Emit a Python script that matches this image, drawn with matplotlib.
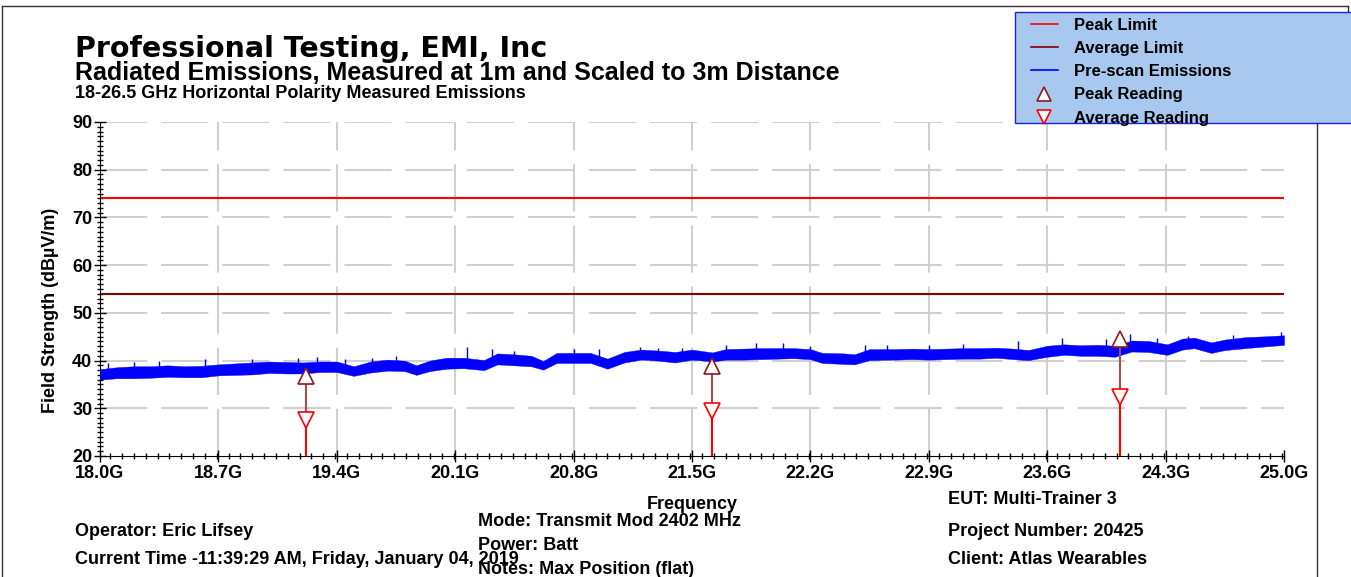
import numpy as np
import matplotlib
matplotlib.use("Agg")
import matplotlib.pyplot as plt
from matplotlib.lines import Line2D
from matplotlib.patches import Rectangle
from matplotlib.ticker import MultipleLocator, FixedLocator

plt.rcParams['font.family'] = ['Liberation Sans', 'DejaVu Sans']
plt.rcParams['font.weight'] = 'bold'
plt.rcParams['axes.labelweight'] = 'bold'
plt.rcParams['lines.scale_dashes'] = False

W, H = 1351, 577

# limits (dBuV/m)
peak_limit = 74.0
avg_limit = 54.0

# pre-scan trace, read as lower/upper edges of the noise band (GHz, dBuV/m)
scan_freq = [18.00, 18.10, 18.20, 18.30, 18.40, 18.50, 18.60, 18.70, 18.80, 18.90,
             19.00, 19.10, 19.20, 19.30, 19.40, 19.50, 19.60, 19.70, 19.80, 19.87,
             19.95, 20.05, 20.15, 20.27, 20.35, 20.45, 20.55, 20.62, 20.70, 20.80,
             20.90, 21.00, 21.10, 21.20, 21.30, 21.40, 21.50, 21.62, 21.70, 21.80,
             21.90, 22.00, 22.10, 22.20, 22.27, 22.40, 22.46, 22.55, 22.70, 22.80,
             22.90, 23.00, 23.10, 23.20, 23.30, 23.40, 23.49, 23.60, 23.70, 23.80,
             23.90, 24.00, 24.10, 24.20, 24.31, 24.40, 24.47, 24.57, 24.65, 24.77,
             24.90, 25.00]
scan_lo = [36.0, 36.3, 36.3, 36.4, 36.6, 36.5, 36.5, 36.9, 37.0, 37.1,
           37.4, 37.3, 37.3, 37.6, 37.6, 36.8, 37.5, 37.9, 37.8, 37.0,
           37.8, 38.3, 38.4, 38.0, 39.2, 39.0, 38.8, 38.1, 39.5, 39.5,
           39.5, 38.3, 39.6, 40.2, 40.0, 39.6, 40.2, 39.8, 40.2, 40.2,
           40.3, 40.4, 40.5, 40.3, 39.5, 39.3, 39.2, 40.1, 40.2, 40.3,
           40.2, 40.3, 40.4, 40.4, 40.6, 40.3, 40.1, 40.8, 41.2, 41.0,
           41.0, 40.8, 41.9, 41.8, 41.2, 42.3, 42.6, 41.6, 42.2, 42.6,
           43.0, 43.3]
scan_hi = [38.2, 38.6, 38.8, 38.8, 39.0, 38.8, 38.9, 39.2, 39.4, 39.6,
           39.8, 39.7, 39.6, 39.8, 39.8, 38.8, 39.8, 40.2, 40.0, 39.0,
           40.0, 40.6, 40.6, 40.1, 41.5, 41.3, 41.0, 39.9, 41.6, 41.6,
           41.6, 40.4, 41.8, 42.3, 42.1, 41.8, 42.3, 41.7, 42.4, 42.5,
           42.6, 42.6, 42.6, 42.4, 41.6, 41.5, 41.3, 42.4, 42.4, 42.5,
           42.4, 42.5, 42.6, 42.6, 42.7, 42.5, 42.2, 43.1, 43.4, 43.2,
           43.3, 43.1, 44.2, 44.1, 43.4, 44.6, 44.8, 43.8, 44.4, 44.9,
           45.1, 45.3]

# narrow spikes sticking out of the band
spike_freq = [18.05, 18.20, 18.35, 18.62, 18.90, 19.17, 19.28, 19.45, 19.61, 19.75,
              20.17, 20.32, 20.45, 20.80, 20.95, 21.19, 21.30, 21.44, 21.70, 21.88,
              22.04, 22.20, 22.52, 22.65, 22.90, 23.10, 23.43, 23.69, 23.95, 24.09,
              24.25, 24.43, 24.70, 24.98]
spike_top = [39.5, 39.8, 39.9, 40.3, 40.3, 40.6, 40.8, 40.4, 40.6, 41.0,
             42.9, 42.4, 42.0, 42.5, 42.5, 42.9, 42.7, 42.7, 43.2, 43.6,
             43.6, 43.1, 43.3, 43.2, 43.3, 43.4, 44.1, 44.7, 44.6, 45.5,
             44.8, 45.2, 45.3, 45.9]

# final measurements
meas_freq = [19.22, 21.62, 24.03]
peak_reading = [36.8, 38.9, 44.5]
avg_reading = [27.5, 29.5, 32.4]

x_ticks = [18.0, 18.7, 19.4, 20.1, 20.8, 21.5, 22.2, 22.9, 23.6, 24.3, 25.0]
y_ticks = [20, 30, 40, 50, 60, 70, 80, 90]


def fx(x):
    return x / W


def fy(y):
    return 1 - y / H


fig = plt.figure(figsize=(W / 100, H / 100), dpi=100)
ax = fig.add_axes([fx(100), fy(456), 1184 / W, 334 / H])

# grid first so everything sits on top
for t in y_ticks[1:]:
    ax.axhline(t, color='#d0d0d0', lw=1.5, dashes=(34, 10), zorder=0)
for t in x_ticks[1:-1]:
    ax.axvline(t, color='#d0d0d0', lw=1.5, dashes=(34, 10), zorder=0)

ax.axhline(peak_limit, color='#ff0000', lw=1.5, zorder=2)
ax.axhline(avg_limit, color='#800000', lw=1.5, zorder=2)

ax.fill_between(scan_freq, scan_lo, scan_hi, color='#0000ff', lw=0.3,
                edgecolor='#0000ff', zorder=3)
ax.vlines(spike_freq, np.array(spike_top) - 2.5, spike_top, color='#0000ff',
          lw=1.0, zorder=3)

# stems: red up to the average, brownish from average to peak
ax.vlines(meas_freq, 20, avg_reading, color='#ff0000', lw=1.5, zorder=4)
ax.vlines(meas_freq, avg_reading, peak_reading, color='#a05050', lw=1.5, zorder=4)
ax.plot(meas_freq, peak_reading, ls='none', marker='^', ms=11, mfc='white',
        mec='#8b1a1a', mew=1.2, zorder=5)
ax.plot(meas_freq, avg_reading, ls='none', marker='v', ms=11, mfc='white',
        mec='#ff0000', mew=1.2, zorder=5)

ax.set_xlim(18.0, 25.0)
ax.set_ylim(20, 90)
ax.xaxis.set_major_locator(FixedLocator(x_ticks))
ax.set_xticklabels(['%.1fG' % t for t in x_ticks])
ax.xaxis.set_minor_locator(MultipleLocator(0.07))
ax.yaxis.set_major_locator(FixedLocator(y_ticks))
ax.yaxis.set_minor_locator(MultipleLocator(1))
ax.tick_params(which='major', direction='inout', length=9, width=1, labelsize=13, pad=1)
ax.tick_params(axis='x', which='major', pad=2)
ax.tick_params(which='minor', direction='inout', length=5, width=1)
for s in ['top', 'right']:
    ax.spines[s].set_visible(False)
ax.set_facecolor('white')

ax.set_xlabel('Frequency', fontsize=13, labelpad=10)
ax.set_ylabel('Field Strength (dB\u00b5V/m)', fontsize=13)
ax.yaxis.set_label_coords(-0.0345, 0.437)

# header
fig.text(fx(75), fy(57), 'Professional Testing, EMI, Inc', fontsize=20.5,
         family='DejaVu Sans', weight='bold', va='baseline')
fig.text(fx(75), fy(80), 'Radiated Emissions, Measured at 1m and Scaled to 3m Distance',
         fontsize=18, va='baseline')
fig.text(fx(75), fy(98), '18-26.5 GHz Horizontal Polarity Measured Emissions',
         fontsize=13, va='baseline')

# footer info
fig.text(fx(75), fy(531), 'Operator: Eric Lifsey', fontsize=13, va='center')
fig.text(fx(75), fy(559), 'Current Time -11:39:29 AM, Friday, January 04, 2019',
         fontsize=13, va='center')
fig.text(fx(478), fy(522), 'Mode: Transmit Mod 2402 MHz', fontsize=13, va='center')
fig.text(fx(478), fy(546), 'Power: Batt', fontsize=13, va='center')
fig.text(fx(478), fy(569), 'Notes: Max Position (flat)', fontsize=13, va='center')
fig.text(fx(948), fy(500), 'EUT: Multi-Trainer 3', fontsize=13, va='center')
fig.text(fx(948), fy(531), 'Project Number: 20425', fontsize=13, va='center')
fig.text(fx(948), fy(559), 'Client: Atlas Wearables', fontsize=13, va='center')

# page frame
fig.add_artist(Line2D([fx(2), fx(2)], [fy(6), 0], color='#333333', lw=1))
fig.add_artist(Line2D([fx(2), fx(1348)], [fy(6), fy(6)], color='#333333', lw=1))
fig.add_artist(Line2D([fx(1348), fx(1348)], [fy(6), fy(12)], color='#333333', lw=1))
fig.add_artist(Line2D([fx(1317), fx(1317)], [fy(123), 0], color='#333333', lw=1))

# legend box
fig.patches.append(Rectangle((fx(1015), fy(123)), 0.3, 111 / H, transform=fig.transFigure,
                             facecolor='#a8c8f0', edgecolor='#2020e0', lw=1, zorder=4))
handles = [
    Line2D([], [], color='#ff0000', lw=1.2),
    Line2D([], [], color='#800000', lw=1.2),
    Line2D([], [], color='#0000ff', lw=1.2),
    Line2D([], [], ls='none', marker='^', ms=10, mfc='white', mec='#8b1a1a', mew=1.2),
    Line2D([], [], ls='none', marker='v', ms=10, mfc='white', mec='#ff0000', mew=1.2),
]
labels = ['Peak Limit', 'Average Limit', 'Pre-scan Emissions', 'Peak Reading',
          'Average Reading']
fig.legend(handles, labels, loc='upper left', bbox_to_anchor=(fx(1031), fy(17.5)),
           frameon=False, fontsize=12, borderpad=0, handlelength=1.6,
           handletextpad=1.0, labelspacing=0.5, borderaxespad=0)

fig.savefig('out.png', dpi=100)
